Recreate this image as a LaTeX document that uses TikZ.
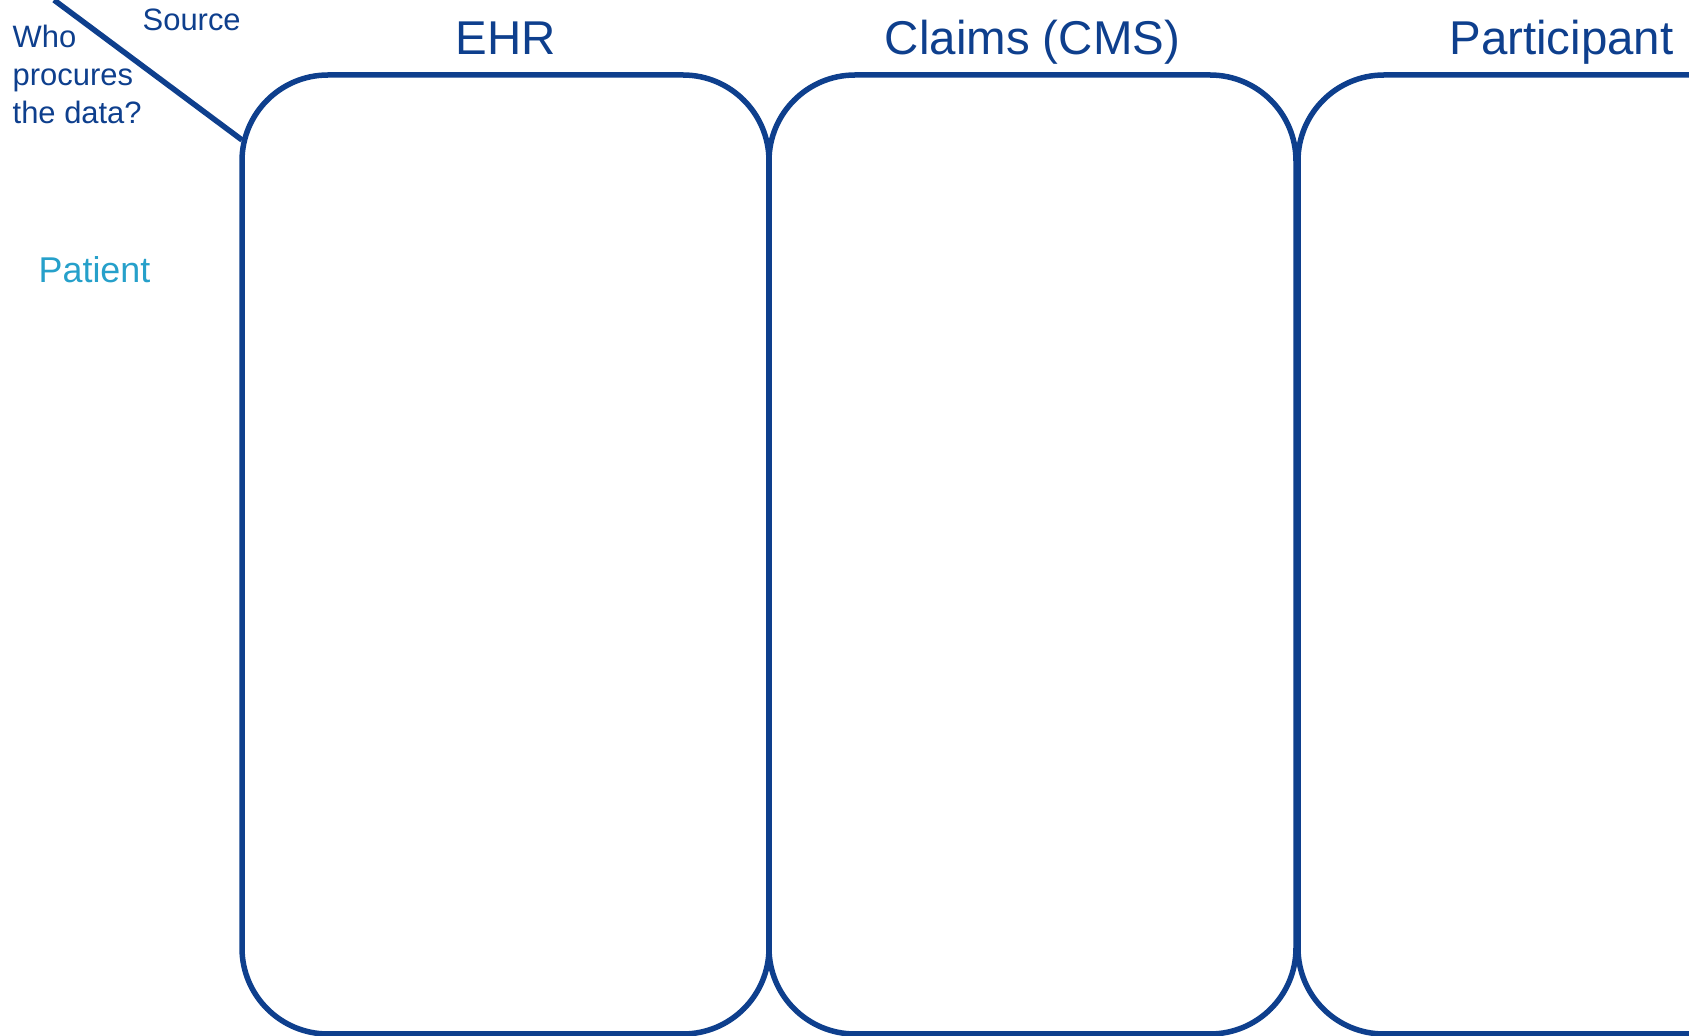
\documentclass[tikz,border=0pt]{standalone}
\usepackage{fontspec}
\setmainfont{Liberation Sans}
\usetikzlibrary{positioning}

\definecolor{navy}{RGB}{14,63,141}
\definecolor{teal}{RGB}{38,160,202}

\tikzset{
  lane/.style={draw=navy, line width=0.55mm, rounded corners=8.6mm,
    minimum width=52.7mm, minimum height=95.9mm,
    inner sep=0pt, outer sep=0pt, anchor=north west},
  head/.style={text=navy, inner sep=0pt, anchor=base,
    font=\fontsize{13.5}{16}\selectfont},
  small/.style={text=navy, inner sep=0pt, anchor=base west, align=left,
    font=\fontsize{8.8}{10.9}\selectfont},
}

\begin{document}
\begin{tikzpicture}[x=0.1mm,y=-0.1mm]%
\useasboundingbox (0,0) rectangle (1689,1036);%
\clip (0,0) rectangle (1689,1036);%
%
\def\top{75};%
\def\base{55};%
%
% the three lanes
\node[lane] (ehr) at (242,\top) {};%
\node[lane] (claims) at (769,\top) {};%
\node[lane] (part) at (1298,\top) {};%
%
\node[head] (ehrhead) at (ehr.north |- 0,\base) {EHR};%
\node[head] (claimshead) at (claims.north |- 0,\base) {Claims (CMS)};%
\node[head] (parthead) at (part.north |- 0,\base) {Participant};%
%
% corner labels
\coordinate (diagtop) at (54,0);%
\coordinate (diagend) at (242,140);%
\draw[navy, line width=0.55mm] (diagtop) -- (diagend);%
\node[small] (source) at (142,31) {Source};%
\node[small] (who) at (12,124) {Who\\procures\\the data?};%
%
\node[text=teal, inner sep=0pt, anchor=base west,
  font=\fontsize{10.2}{12}\selectfont] (patient) at (38,283) {Patient};%
%
\end{tikzpicture}
\end{document}
